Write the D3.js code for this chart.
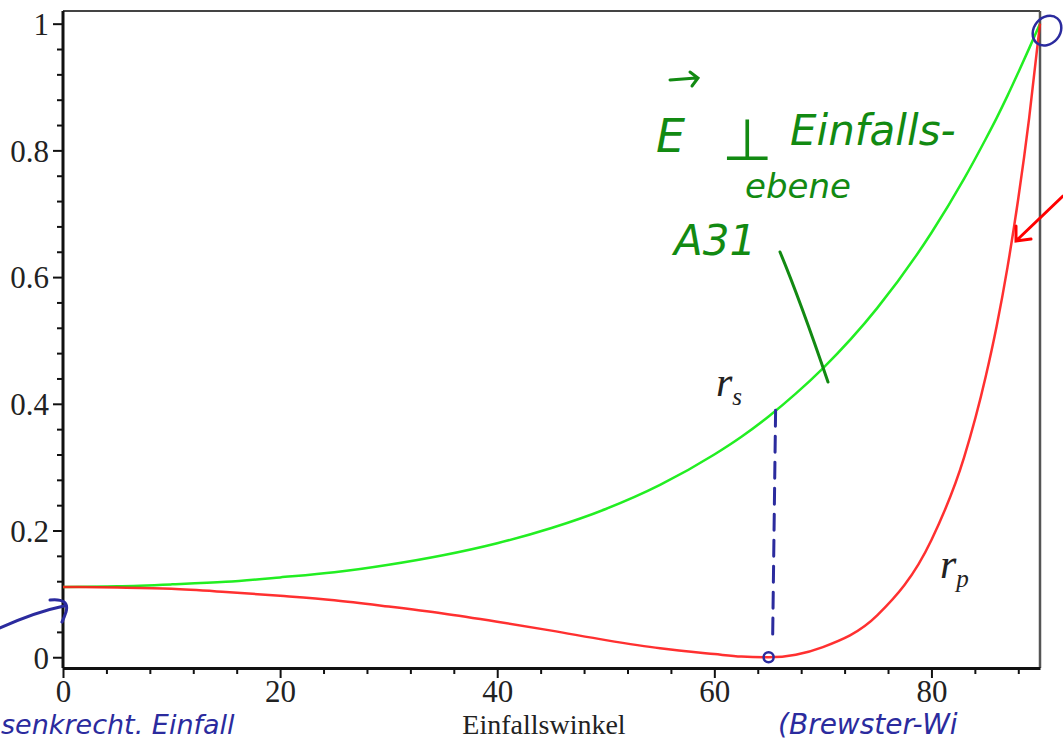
<!DOCTYPE html>
<html>
<head>
<meta charset="utf-8">
<script src="https://cdn.jsdelivr.net/npm/d3@7"></script>
<style>
  body { margin: 0; background: #fff; }
  svg { display: block; }
  .hand { font-family: "DejaVu Sans", sans-serif; font-style: italic; }
</style>
</head>
<body>
<svg id="chart" width="1063" height="742"></svg>
<script>
// angle of incidence (deg) and reflectances
var angles = [0, 5, 10, 15, 20, 25, 30, 35, 40, 45, 50, 55, 60, 62.5, 65, 67.5, 70, 75, 80, 83, 85, 86, 87, 88, 89, 90];
var rsVals = [0.111, 0.112, 0.115, 0.119, 0.126, 0.134, 0.146, 0.161, 0.180, 0.204, 0.234, 0.272, 0.320, 0.348, 0.380, 0.416, 0.456, 0.551, 0.670, 0.755, 0.818, 0.851, 0.886, 0.923, 0.961, 1.0];
var rpVals = [0.111, 0.110, 0.108, 0.103, 0.097, 0.090, 0.080, 0.069, 0.056, 0.042, 0.027, 0.014, 0.005, 0.001, 0.000, 0.004, 0.016, 0.066, 0.185, 0.315, 0.443, 0.522, 0.615, 0.724, 0.851, 1.0];
var xTicks = [0, 20, 40, 60, 80];
var yTicks = [0, 0.2, 0.4, 0.6, 0.8, 1];
var yTickLabels = ["0", "0.2", "0.4", "0.6", "0.8", "1"];
var brewster = 65;

var svg = d3.select("#chart");

var x = d3.scaleLinear().domain([0, 90]).range([63, 1040]);
var y = d3.scaleLinear().domain([-0.017, 1.02]).range([668, 11]);

// frame (top and right)
svg.append("line").attr("x1", 63).attr("x2", 1040).attr("y1", 11).attr("y2", 11)
  .attr("stroke", "#444").attr("stroke-width", 2);
svg.append("line").attr("x1", 1040).attr("x2", 1040).attr("y1", 11).attr("y2", 668)
  .attr("stroke", "#555").attr("stroke-width", 2.5);

// minor ticks
var xMinor = d3.range(0, 90.1, 4).filter(function(d) { return d % 20 != 0; });
svg.append("g").attr("transform", "translate(0,668)")
  .call(d3.axisBottom(x).tickValues(xMinor).tickSize(6).tickFormat(""))
  .call(function(g) { g.select(".domain").remove(); g.selectAll("line").attr("stroke", "#111").attr("stroke-width", 2); });
var yMinor = d3.range(0, 1.01, 0.04).filter(function(d) { return Math.abs(d * 5 - Math.round(d * 5)) > 0.01; });
svg.append("g").attr("transform", "translate(63,0)")
  .call(d3.axisLeft(y).tickValues(yMinor).tickSize(6).tickFormat(""))
  .call(function(g) { g.select(".domain").remove(); g.selectAll("line").attr("stroke", "#111").attr("stroke-width", 2); });

// main axes
var xAxis = svg.append("g").attr("transform", "translate(0,668)")
  .call(d3.axisBottom(x).tickValues(xTicks).tickSize(10).tickPadding(2).tickSizeOuter(0));
xAxis.select(".domain").attr("stroke", "#111").attr("stroke-width", 3);
xAxis.selectAll(".tick line").attr("stroke", "#111").attr("stroke-width", 2);

var yAxis = svg.append("g").attr("transform", "translate(63,0)")
  .call(d3.axisLeft(y).tickValues(yTicks).tickSize(10).tickPadding(4).tickSizeOuter(0)
    .tickFormat(function(d, i) { return yTickLabels[i]; }));
yAxis.select(".domain").attr("stroke", "#111").attr("stroke-width", 3).attr("d", "M0,668V11");
yAxis.selectAll(".tick line").attr("stroke", "#111").attr("stroke-width", 2);
yAxis.selectAll(".tick text").attr("dy", "0.35em");

svg.selectAll(".tick text")
  .style("font-family", "Liberation Serif, serif").style("font-size", "31px").attr("fill", "#222");

svg.append("text").attr("x", 544).attr("y", 734).attr("text-anchor", "middle")
  .style("font-family", "Liberation Serif, serif").style("font-size", "28px").attr("fill", "#222")
  .text("Einfallswinkel");

// curves
var line = d3.line().curve(d3.curveMonotoneX)
  .x(function(d) { return x(d[0]); }).y(function(d) { return y(d[1]); });
var rsData = angles.map(function(a, i) { return [a, rsVals[i]]; });
var rpData = angles.map(function(a, i) { return [a, rpVals[i]]; });

svg.append("path").datum(rsData).attr("d", line)
  .attr("fill", "none").attr("stroke", "#22ee22").attr("stroke-width", 2.5);
svg.append("path").datum(rpData).attr("d", line)
  .attr("fill", "none").attr("stroke", "#ff1a1a").attr("stroke-width", 2.5).attr("opacity", 0.9);

// curve labels
function curveLabel(px, py, sub) {
  var t = svg.append("text").attr("x", px).attr("y", py)
    .style("font-family", "Liberation Serif, serif").style("font-style", "italic")
    .style("font-size", "42px").attr("fill", "#222");
  t.append("tspan").text("r");
  t.append("tspan").attr("dy", 9).style("font-size", "25px").text(sub);
}
curveLabel(716, 396, "s");
curveLabel(940, 578, "p");

// handwritten notes (green)
var green = "#128a12";
svg.append("text").attr("class", "hand").attr("x", 656).attr("y", 152)
  .style("font-size", "46px").attr("fill", green).text("E");
svg.append("path").attr("d", "M670,80 L696,78 M690,72 L698,78 L692,86")
  .attr("fill", "none").attr("stroke", green).attr("stroke-width", 3).attr("stroke-linecap", "round");
svg.append("text").attr("class", "hand").attr("x", 722).attr("y", 160)
  .style("font-size", "58px").attr("fill", green).text("⊥");
svg.append("text").attr("class", "hand").attr("x", 790).attr("y", 145)
  .style("font-size", "42px").attr("fill", green).text("Einfalls-");
svg.append("text").attr("class", "hand").attr("x", 745).attr("y", 198)
  .style("font-size", "34px").attr("fill", green).text("ebene");
svg.append("text").attr("class", "hand").attr("x", 674).attr("y", 255)
  .style("font-size", "42px").attr("fill", green).text("A31");
svg.append("path").attr("d", "M780,252 Q800,300 828,382")
  .attr("fill", "none").attr("stroke", green).attr("stroke-width", 3).attr("stroke-linecap", "round");

// handwritten notes (blue)
var blue = "#2b2b9e";
svg.append("line")
  .attr("x1", x(brewster) + 7).attr("y1", y(0.39))
  .attr("x2", x(brewster) + 4).attr("y2", y(0.025))
  .attr("stroke", blue).attr("stroke-width", 3).attr("stroke-dasharray", "16,10").attr("stroke-linecap", "round");
svg.append("circle").attr("cx", x(brewster)).attr("cy", y(0)).attr("r", 5)
  .attr("fill", "none").attr("stroke", blue).attr("stroke-width", 2.5);
svg.append("ellipse").attr("cx", x(90) + 7).attr("cy", y(1) + 7).attr("rx", 13).attr("ry", 16)
  .attr("transform", "rotate(40," + (x(90) + 7) + "," + (y(1) + 7) + ")")
  .attr("fill", "none").attr("stroke", blue).attr("stroke-width", 2.5);
svg.append("path").attr("d", "M0,628 Q35,612 64,606 M50,600 Q70,598 66,612 Q64,618 62,622")
  .attr("fill", "none").attr("stroke", blue).attr("stroke-width", 3).attr("stroke-linecap", "round");
svg.append("text").attr("class", "hand").attr("x", 1).attr("y", 734)
  .style("font-size", "27px").attr("fill", blue).text("senkrecht.   Einfall");
svg.append("text").attr("class", "hand").attr("x", 778).attr("y", 734)
  .style("font-size", "28px").attr("fill", blue).text("(Brewster-Wi");

// red arrow
svg.append("path").attr("d", "M1063,196 L1017,240 M1016,226 L1016,241 L1031,239")
  .attr("fill", "none").attr("stroke", "#ff0000").attr("stroke-width", 3).attr("stroke-linecap", "round");
</script>
</body>
</html>
